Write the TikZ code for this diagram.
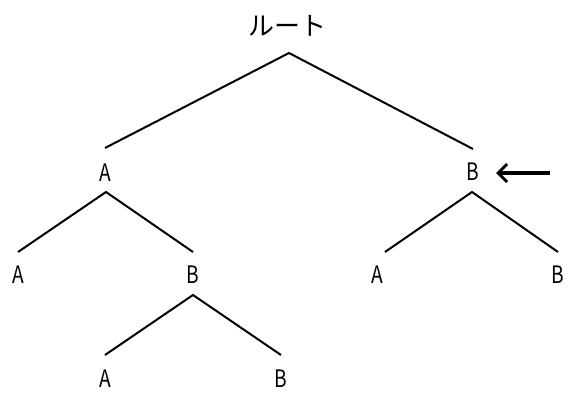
\documentclass[tikz,border=0pt]{standalone}
\usepackage{fontspec}
\setmainfont{Noto Sans CJK JP}
\usetikzlibrary{arrows.meta}
\begin{document}
\begin{tikzpicture}[x=1pt,y=-1pt,
  lbl/.style={inner sep=0pt,font=\fontsize{24}{24}\selectfont},
  edge/.style={line width=2pt}]
\useasboundingbox (0,0) rectangle (574,404);
% labels
\node[inner sep=0pt,font=\fontsize{26}{26}\selectfont] (root) at (287,26) {ルート};
\node[lbl] (A1) at (105,173) {\scalebox{0.8}[1]{A}};
\node[lbl] (B1) at (473,172) {\scalebox{0.8}[1]{B}};
\node[lbl] (A2) at (18,275) {\scalebox{0.8}[1]{A}};
\node[lbl] (B2) at (193,275) {\scalebox{0.8}[1]{B}};
\node[lbl] (A3) at (377,275) {\scalebox{0.8}[1]{A}};
\node[lbl] (B3) at (558,275) {\scalebox{0.8}[1]{B}};
\node[lbl] (A4) at (105,379) {\scalebox{0.8}[1]{A}};
\node[lbl] (B4) at (281,379) {\scalebox{0.8}[1]{B}};
% branch points
\coordinate (r0) at (289,53);
\coordinate (r1) at (105,148);
\coordinate (r2) at (473,149);
\coordinate (a0) at (106,192);
\coordinate (a1) at (18,252);
\coordinate (a2) at (193,252);
\coordinate (b0) at (472,192);
\coordinate (b1) at (385,252);
\coordinate (b2) at (558,252);
\coordinate (c0) at (193,295);
\coordinate (c1) at (105,355);
\coordinate (c2) at (281,355);
\draw[edge] (r1) -- (r0) -- (r2);
\draw[edge] (a1) -- (a0) -- (a2);
\draw[edge] (b1) -- (b0) -- (b2);
\draw[edge] (c1) -- (c0) -- (c2);
% arrow
\coordinate (arrT) at (550,173);
\coordinate (arrH) at (496,173);
\draw[line width=3.4pt,-{Straight Barb[length=9pt,width=18pt,line width=3pt]}] (arrT) -- (arrH);
\end{tikzpicture}
\end{document}
